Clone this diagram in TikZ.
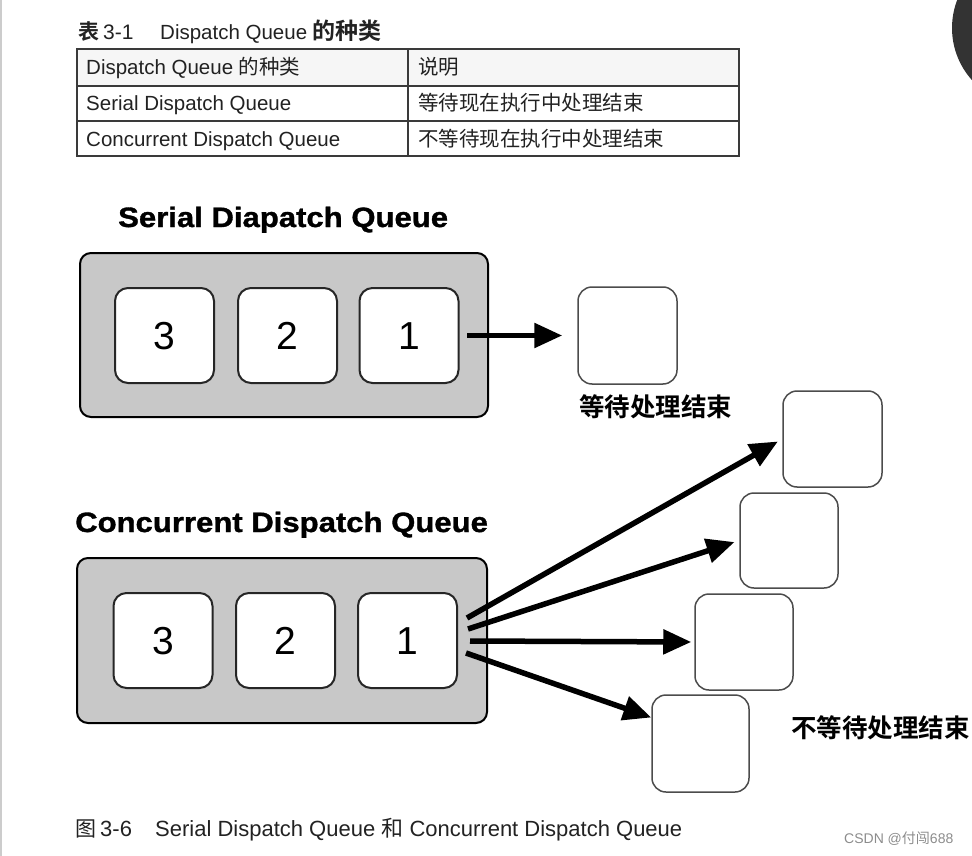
\documentclass[tikz,border=0pt]{standalone}
\usepackage{fontspec}
\setmainfont{Liberation Sans}
\newfontfamily\cjk[BoldFont={Noto Sans CJK SC Bold}]{Noto Sans CJK SC}
\newfontfamily\headfont[FakeStretch=1.11, BoldFeatures={FakeBold=1.2}]{Liberation Sans}
\usetikzlibrary{arrows.meta}

\definecolor{qgray}{HTML}{C8C8C8}
\definecolor{inkgray}{HTML}{222222}
\definecolor{rulegray}{HTML}{3A3A3A}
\definecolor{badge}{HTML}{333333}

\tikzset{
  queuebox/.style={draw=black, line width=2pt, fill=qgray, rounded corners=11pt, inner sep=0pt},
  itembox/.style={draw=black!85, line width=2pt, fill=white, rounded corners=13pt,
    minimum width=99pt, minimum height=95pt, inner sep=0pt,
    text height=28pt, text depth=0pt,
    font=\fontsize{39}{40}\selectfont},
  outbox/.style={draw=black!70, line width=1.5pt, fill=white, rounded corners=14pt,
    minimum width=98pt, minimum height=96pt, inner sep=0pt},
  bigarrow/.style={line width=5.5pt, -{Triangle[length=28pt,width=24pt]}},
  heading/.style={anchor=base west, inner sep=0pt, font=\headfont\bfseries\fontsize{28}{32}\selectfont},
  celltext/.style={anchor=base west, inner sep=0pt, text=inkgray, font=\fontsize{20.5}{24}\selectfont},
  captext/.style={anchor=base west, inner sep=0pt, text=inkgray, font=\fontsize{22}{26}\selectfont},
  cjklabel/.style={anchor=west, inner sep=0pt, font=\cjk\bfseries\fontsize{25.5}{30}\selectfont},
}

\begin{document}
\begin{tikzpicture}[x=1pt, y=-1pt]
\useasboundingbox (0,0) rectangle (972,856);

% page edge and corner badge
\draw[gray!40, line width=2pt] (1,0) -- (1,856);
\begin{scope}
  \clip (0,0) rectangle (972,856);
  \fill[badge] (1030,28) circle[radius=78pt];
\end{scope}

% ---- table 3-1 ----
\node[captext, font=\cjk\bfseries\fontsize{21}{24}\selectfont] (tcapA) at (78,39.5) {表};
\node[captext, font=\fontsize{21}{24}\selectfont] (tcapB) at (103,39.5) {3-1};
\node[captext, font=\fontsize{20.5}{24}\selectfont] (tcapC) at (160,39.5) {Dispatch Queue};
\node[captext, font=\cjk\bfseries\fontsize{23}{26}\selectfont] (tcapD) at (312,39.5) {的种类};

\fill[gray!7] (77,49) rectangle (739,86);
\draw[rulegray, line width=1.4pt] (77,49) rectangle (739,156);
\draw[rulegray, line width=1.2pt] (77,86) -- (739,86);
\draw[rulegray, line width=1.2pt] (77,121) -- (739,121);
\draw[rulegray, line width=1.2pt] (408,49) -- (408,156);

\node[celltext] (h1) at (86,75) {Dispatch Queue {\cjk 的种类}};
\node[celltext] (h2) at (418,75) {\cjk 说明};
\node[celltext] (r1a) at (86,111) {Serial Dispatch Queue};
\node[celltext] (r1b) at (418,111) {\cjk 等待现在执行中处理结束};
\node[celltext] (r2a) at (86,146.5) {Concurrent Dispatch Queue};
\node[celltext] (r2b) at (418,146.5) {\cjk 不等待现在执行中处理结束};

% ---- serial queue ----
\node[heading] (stitle) at (118,227) {Serial Diapatch Queue};
\node[queuebox, minimum width=408pt, minimum height=164pt] (sq) at (284,335) {};
\node[itembox] (s3) at (164.5,335.5) {3};
\node[itembox] (s2) at (287.5,335.5) {2};
\node[itembox] (s1) at (409,335.5) {1};
\node[outbox, minimum width=99pt, minimum height=97pt] (sout) at (627.5,335.5) {};
\coordinate (sstart) at (467,335.5);
\draw[bigarrow, shorten >=15pt] (sstart) -- (sout.west);
\node[cjklabel] (swait) at (579,407) {等待处理结束};

% ---- concurrent queue ----
\node[heading] (ctitle) at (75,532) {Concurrent Dispatch Queue};
\node[queuebox, minimum width=410pt, minimum height=165pt] (cq) at (282,640.5) {};
\node[itembox] (c3) at (163,640.5) {3};
\node[itembox] (c2) at (285.5,640.5) {2};
\node[itembox] (c1) at (407.5,640.5) {1};

\node[outbox, minimum width=99pt] (ca) at (832.5,439) {};
\node[outbox, minimum height=95pt] (cb) at (789,540.5) {};
\node[outbox] (cc) at (744,642) {};
\node[outbox, minimum width=97pt, minimum height=97pt] (cd) at (700.5,743.5) {};

\coordinate (cs1) at (467,618);
\coordinate (cs2) at (468,629);
\coordinate (cs3) at (470,641);
\coordinate (cs4) at (466,653);
\draw[bigarrow, shorten >=5pt] (cs1) -- (ca.west);
\draw[bigarrow, shorten >=5pt] (cs2) -- (cb.west);
\draw[bigarrow, shorten >=3pt] (cs3) -- (cc.west);
\draw[bigarrow] (cs4) -- ([yshift=26pt]cd.west);

\node[cjklabel] (cwait) at (791,728) {不等待处理结束};

% ---- figure caption and credit ----
\node[captext, font=\cjk\fontsize{21}{24}\selectfont] (fcapA) at (75,836) {图};
\node[captext] (fcapB) at (100,836) {3-6};
\node[captext] (fcapC) at (155,836) {Serial Dispatch Queue {\cjk 和} Concurrent Dispatch Queue};
\node[anchor=base west, inner sep=0pt, text=black!45, font=\fontsize{14}{16}\selectfont] (credit) at (844,843) {CSDN @{\cjk 付闯}688};
\end{tikzpicture}
\end{document}
